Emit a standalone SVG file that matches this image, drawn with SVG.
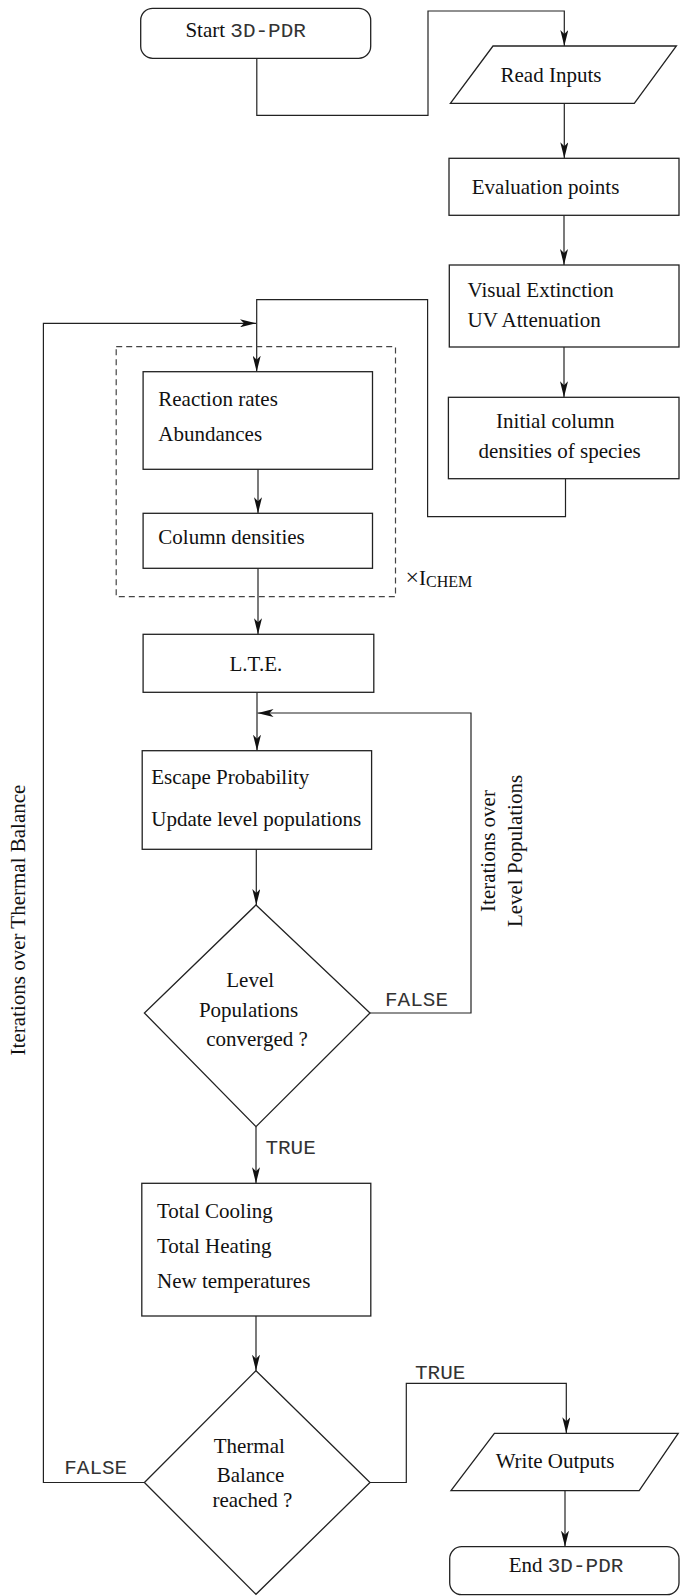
<svg xmlns="http://www.w3.org/2000/svg" width="680" height="1596" viewBox="0 0 680 1596">
<style>
.bx{fill:#fff;stroke:#222;stroke-width:1.3}
.dash{fill:none;stroke:#444;stroke-width:1.2;stroke-dasharray:6 4}
.ln{fill:none;stroke:#222;stroke-width:1.2}
.t{font-family:"Liberation Serif","Times New Roman",serif;font-size:21px;fill:#111}
.m{font-family:"Liberation Mono","Courier New",monospace;font-size:21px;fill:#333}
.c{text-anchor:middle}
</style>
<defs>
<marker id="arr" viewBox="0 0 16 8" refX="16" refY="4" markerWidth="16" markerHeight="8" markerUnits="userSpaceOnUse" orient="auto">
<path d="M0,0 L16,4 L0,8 L4,4 Z" fill="#111"/>
</marker>
</defs>
<rect width="680" height="1596" fill="#fff"/>

<g id="connectors">
<path class="ln" d="M256.8,58.3 V115.3 H428 V11 H564.3 V46" marker-end="url(#arr)"/>
<path class="ln" d="M564.3,103.3 V158.3" marker-end="url(#arr)"/>
<path class="ln" d="M564,215.3 V265" marker-end="url(#arr)"/>
<path class="ln" d="M564,347 V397.3" marker-end="url(#arr)"/>
<path class="ln" d="M565.5,478.7 V516.7 H427.6 V299.7 H256.7 V371.7" marker-end="url(#arr)"/>
<path class="ln" d="M258,469.3 V513.3" marker-end="url(#arr)"/>
<path class="ln" d="M258,568.3 V634.3" marker-end="url(#arr)"/>
<path class="ln" d="M257,692.3 V750.7" marker-end="url(#arr)"/>
<path class="ln" d="M256.3,849.3 V905" marker-end="url(#arr)"/>
<path class="ln" d="M370,1013 H471 V713 H257.5" marker-end="url(#arr)"/>
<path class="ln" d="M256,1126.7 V1183.3" marker-end="url(#arr)"/>
<path class="ln" d="M256,1316 V1370.7" marker-end="url(#arr)"/>
<path class="ln" d="M144.4,1482.5 H43.4 V323.3 H256" marker-end="url(#arr)"/>
<path class="ln" d="M370,1482.5 H406.3 V1383.3 H566.3 V1433.3" marker-end="url(#arr)"/>
<path class="ln" d="M565,1490.7 V1546.7" marker-end="url(#arr)"/>
<text class="m" x="385" y="1006">FALSE</text>
<text class="m" x="265.4" y="1154">TRUE</text>
<text class="m" x="415" y="1379">TRUE</text>
<text class="m" x="64.2" y="1474">FALSE</text>
<text class="t c" transform="translate(25,920) rotate(-90)">Iterations over Thermal Balance</text>
<text class="t c" transform="translate(495,851) rotate(-90)">Iterations over</text>
<text class="t c" transform="translate(522,851) rotate(-90)">Level Populations</text>
</g>

<g id="start">
<rect class="bx" x="140.7" y="8.3" width="230" height="50" rx="12"/>
<text class="t" x="185.4" y="37.3">Start <tspan class="m">3D-PDR</tspan></text>
</g>
<g id="read-inputs">
<polygon class="bx" points="493,46 676.4,46 634.3,103.3 450.4,103.3"/>
<text class="t c" x="551" y="81.7">Read Inputs</text>
</g>
<g id="evaluation-points">
<rect class="bx" x="449" y="158.3" width="230" height="57"/>
<text class="t" x="471.8" y="194.3">Evaluation points</text>
</g>
<g id="visual-extinction">
<rect class="bx" x="449.3" y="265" width="229.7" height="82"/>
<text class="t" x="467.5" y="296.7">Visual Extinction</text>
<text class="t" x="467.5" y="327.3">UV Attenuation</text>
</g>
<g id="initial-column">
<rect class="bx" x="448.4" y="397.3" width="230.6" height="81.4"/>
<text class="t c" x="555.3" y="428.3">Initial column</text>
<text class="t c" x="559.6" y="458.3">densities of species</text>
</g>
<g id="chem-loop">
<rect class="dash" x="116.2" y="346.7" width="279.3" height="250"/>
<text class="t" x="405.5" y="585"><tspan font-size="24">×</tspan>I<tspan font-size="16" dy="1.5">CHEM</tspan></text>
</g>
<g id="reaction-rates">
<rect class="bx" x="143.1" y="371.7" width="229.4" height="97.6"/>
<text class="t" x="158.3" y="405.7">Reaction rates</text>
<text class="t" x="158.3" y="441.3">Abundances</text>
</g>
<g id="column-densities">
<rect class="bx" x="143.1" y="513.3" width="229.4" height="55"/>
<text class="t" x="158.3" y="544">Column densities</text>
</g>
<g id="lte">
<rect class="bx" x="143.1" y="634.3" width="230.7" height="58"/>
<text class="t c" x="255.9" y="670.7">L.T.E.</text>
</g>
<g id="escape-probability">
<rect class="bx" x="142.2" y="750.7" width="229.4" height="98.6"/>
<text class="t" x="151.3" y="784.3">Escape Probability</text>
<text class="t" x="151.3" y="825.7">Update level populations</text>
</g>
<g id="level-converged">
<polygon class="bx" points="256,905 370,1013 256,1126.7 144.4,1013"/>
<text class="t c" x="250.2" y="986.7">Level</text>
<text class="t c" x="248.5" y="1016.7">Populations</text>
<text class="t c" x="257" y="1045.7">converged ?</text>
</g>
<g id="thermal-calc">
<rect class="bx" x="141.8" y="1183.3" width="229" height="132.7"/>
<text class="t" x="157" y="1217.7">Total Cooling</text>
<text class="t" x="157" y="1252.7">Total Heating</text>
<text class="t" x="157" y="1288.3">New temperatures</text>
</g>
<g id="thermal-balance">
<polygon class="bx" points="256,1370.7 370,1482.5 256,1594.3 144.4,1482.5"/>
<text class="t c" x="249.3" y="1453.3">Thermal</text>
<text class="t c" x="250.6" y="1481.7">Balance</text>
<text class="t c" x="252.4" y="1506.7">reached ?</text>
</g>
<g id="write-outputs">
<polygon class="bx" points="494.4,1433.3 678.2,1433.3 639.2,1490.7 451,1490.7"/>
<text class="t c" x="555" y="1468.3">Write Outputs</text>
</g>
<g id="end">
<rect class="bx" x="449.7" y="1546.7" width="229.3" height="48" rx="12"/>
<text class="t" x="508.7" y="1571.7">End <tspan class="m">3D-PDR</tspan></text>
</g>
</svg>
